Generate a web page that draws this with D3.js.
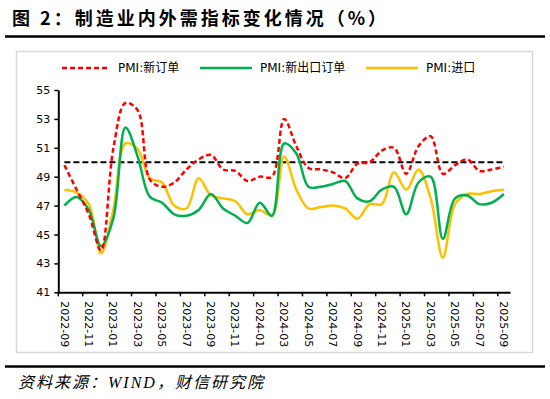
<!DOCTYPE html>
<html>
<head>
<meta charset="utf-8">
<script src="https://cdn.jsdelivr.net/npm/d3@7"></script>
<style>
  body { margin: 0; background: #fff; }
  svg { display: block; }
</style>
</head>
<body>
<svg id="chart" width="550" height="399"></svg>
<script>
// monthly categories, 2022-09 .. 2025-09
const months = [
  '2022-09','2022-10','2022-11','2022-12','2023-01','2023-02','2023-03','2023-04','2023-05','2023-06',
  '2023-07','2023-08','2023-09','2023-10','2023-11','2023-12','2024-01','2024-02','2024-03','2024-04',
  '2024-05','2024-06','2024-07','2024-08','2024-09','2024-10','2024-11','2024-12','2025-01','2025-02',
  '2025-03','2025-04','2025-05','2025-06','2025-07','2025-08','2025-09'
];
// PMI:新订单
const newOrders = [49.8,48.1,46.4,43.9,50.9,54.1,53.6,48.8,48.3,48.6,49.5,50.2,50.5,49.5,49.4,48.7,49.0,49.0,53.0,51.1,
  49.6,49.5,49.3,48.9,49.9,50.0,50.8,51.0,49.2,51.1,51.8,49.2,49.8,50.2,49.4,49.5,49.7];
// PMI:新出口订单
const exportOrders = [47.0,47.6,46.7,44.2,46.1,52.4,50.4,47.6,47.2,46.4,46.3,46.7,47.8,46.8,46.3,45.8,47.2,46.3,51.3,50.6,
  48.3,48.3,48.5,48.7,47.5,47.3,48.1,48.3,46.4,48.6,49.0,44.7,47.5,47.7,47.1,47.2,47.8];
// PMI:进口
const imports = [48.1,47.9,47.1,43.7,46.7,51.3,50.9,48.9,48.6,47.0,46.8,48.9,47.7,47.5,47.3,46.4,46.7,46.3,50.4,48.1,
  46.8,46.9,47.0,46.8,46.1,47.1,47.1,49.3,48.1,49.5,47.5,43.4,47.1,47.8,47.8,48.0,48.1];
const yTicks = [41, 43, 45, 47, 49, 51, 53, 55];
const xTickLabels = months.filter((m, i) => i % 2 === 0);
const baseline = 50;

const series = [
  { name: 'PMI:新订单', values: newOrders, color: '#ff0000', dash: '5,3' },
  { name: 'PMI:新出口订单', values: exportOrders, color: '#00b050', dash: null },
  { name: 'PMI:进口', values: imports, color: '#ffc000', dash: null }
];

const svg = d3.select('#chart');
const font = '"DejaVu Sans", "Noto Sans CJK SC", sans-serif';

// title + rules
svg.append('text')
  .attr('x', 12)
  .attr('y', 25)
  .style('font-family', '"Noto Sans CJK SC", sans-serif')
  .style('font-weight', 'bold')
  .style('font-size', '18px')
  .style('letter-spacing', '3px')
  .text('图 2：制造业内外需指标变化情况（%）');

svg.append('line')
  .attr('x1', 5).attr('x2', 545)
  .attr('y1', 36.5).attr('y2', 36.5)
  .attr('stroke', '#000').attr('stroke-width', 2.5);

svg.append('rect')
  .attr('x', 16.5).attr('y', 51.5)
  .attr('width', 516).attr('height', 301)
  .attr('fill', 'none')
  .attr('stroke', '#d9d9d9').attr('stroke-width', 1.5);

svg.append('line')
  .attr('x1', 5).attr('x2', 545)
  .attr('y1', 366.5).attr('y2', 366.5)
  .attr('stroke', '#000').attr('stroke-width', 2.5);

svg.append('text')
  .attr('x', 18)
  .attr('y', 388)
  .style('font-family', '"Liberation Serif", "Noto Sans CJK SC", serif')
  .style('font-style', 'italic')
  .style('font-size', '16px')
  .style('letter-spacing', '2px')
  .text('资料来源：WIND，财信研究院');

// scales
const plot = { left: 58.3, right: 510, top: 90, bottom: 292.3 };
const x = d3.scaleBand().domain(months).range([plot.left, plot.right]).padding(0);
const y = d3.scaleLinear().domain([41, 55]).range([plot.bottom, plot.top]);
const cx = (m) => x(m) + x.bandwidth() / 2;

// y axis
const yAxis = svg.append('g')
  .attr('transform', `translate(${plot.left},0)`)
  .call(d3.axisLeft(y).tickValues(yTicks).tickSize(4).tickSizeOuter(0).tickPadding(4));
yAxis.select('.domain').attr('stroke', '#000').attr('stroke-width', 2);
yAxis.selectAll('.tick line').attr('stroke', '#000').attr('stroke-width', 1.5);
yAxis.selectAll('.tick text')
  .style('font-family', font).style('font-size', '11px').attr('fill', '#000');

// x axis: ticks on category boundaries, labels at category centres
const xAxis = svg.append('g')
  .attr('transform', `translate(0,${plot.bottom})`)
  .call(d3.axisBottom(x).tickValues(xTickLabels).tickSize(4).tickSizeOuter(0));
xAxis.select('.domain').attr('stroke', '#000').attr('stroke-width', 2);
xAxis.selectAll('.tick line')
  .attr('stroke', '#000').attr('stroke-width', 1.5)
  .attr('transform', `translate(${-x.bandwidth() / 2},0)`);
xAxis.selectAll('.tick text')
  .style('font-family', font).style('font-size', '11px').attr('fill', '#000')
  .attr('y', 0).attr('x', 0).attr('dy', '0.35em')
  .attr('transform', 'translate(0,9) rotate(90)')
  .style('text-anchor', 'start');

// 50 reference line
svg.append('line')
  .attr('x1', cx(months[0])).attr('x2', cx(months[months.length - 1]))
  .attr('y1', y(baseline)).attr('y2', y(baseline))
  .attr('stroke', '#000').attr('stroke-width', 2)
  .attr('stroke-dasharray', '6,3');

// series
const line = d3.line()
  .x((d, i) => cx(months[i]))
  .y((d) => y(d))
  .curve(d3.curveCatmullRom.alpha(0.5));

series.slice().reverse().forEach((s) => {
  svg.append('path')
    .datum(s.values)
    .attr('d', line)
    .attr('fill', 'none')
    .attr('stroke', s.color)
    .attr('stroke-width', 2.5)
    .attr('stroke-dasharray', s.dash);
});

// legend
const legendPos = [
  { x1: 62, x2: 110 },
  { x1: 200, x2: 252 },
  { x1: 366, x2: 418 }
];
const legend = svg.append('g').attr('transform', 'translate(0,68)');
series.forEach((s, i) => {
  const p = legendPos[i];
  legend.append('line')
    .attr('x1', p.x1).attr('x2', p.x2)
    .attr('stroke', s.color).attr('stroke-width', 2.5)
    .attr('stroke-dasharray', s.dash);
  legend.append('text')
    .attr('x', p.x2 + 8)
    .attr('dy', '0.35em')
    .style('font-family', font).style('font-size', '12px')
    .text(s.name);
});
</script>
</body>
</html>
